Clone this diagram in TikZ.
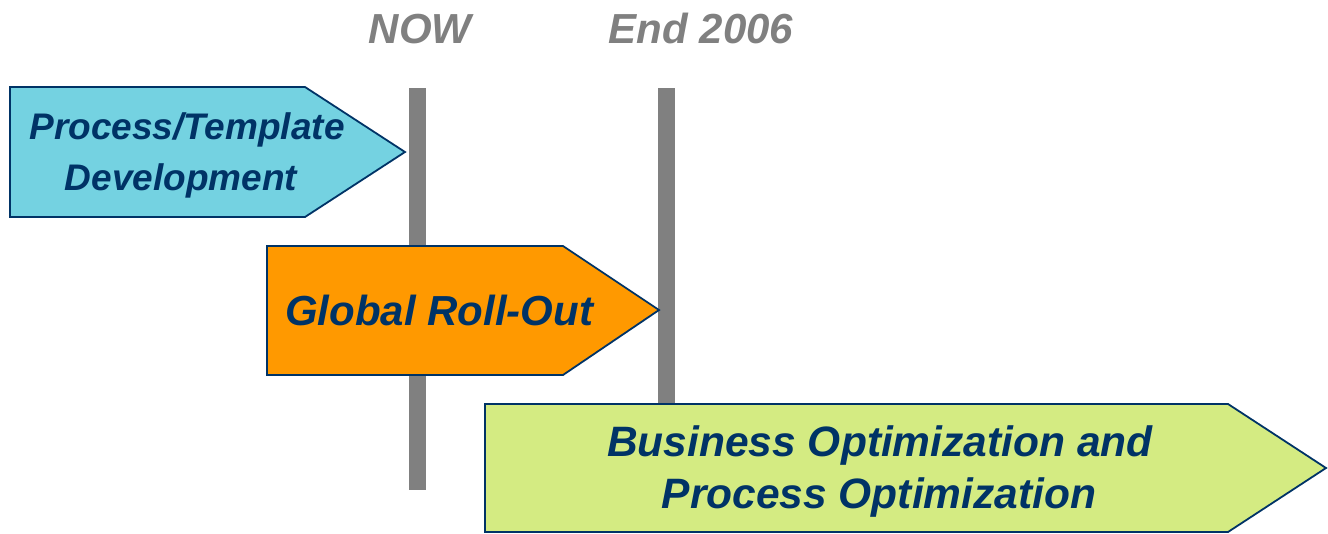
\documentclass[tikz,border=0pt]{standalone}
\usepackage{fontspec}
\setmainfont{Liberation Sans}
\definecolor{navy}{HTML}{003366}
\definecolor{barGray}{HTML}{808080}
\definecolor{cyanFill}{HTML}{74D2E1}
\definecolor{orangeFill}{HTML}{FF9900}
\definecolor{greenFill}{HTML}{D4EB82}
\begin{document}
\begin{tikzpicture}[x=1pt,y=-1pt,
  phase/.style={draw=navy,line width=1.8pt,line join=miter},
  phasetext/.style={text=navy,font=\bfseries\itshape\fontsize{#1}{#1}\selectfont,inner sep=0pt,anchor=base},
  milestone/.style={text=barGray,font=\bfseries\itshape\fontsize{42}{42}\selectfont,inner sep=0pt,anchor=base},
  bar/.style={fill=barGray,draw=none}]
\useasboundingbox (0,0) rectangle (1328,533);
% milestone bars
\fill[bar] (409,88) rectangle (426,490);
\fill[bar] (658,88) rectangle (675,420);
% phases
\draw[phase,fill=cyanFill] (10,87) -- (305,87) -- (405,152) -- (305,217) -- (10,217) -- cycle;
\draw[phase,fill=orangeFill] (267,246) -- (563,246) -- (659,310) -- (563,375) -- (267,375) -- cycle;
\draw[phase,fill=greenFill] (485,404) -- (1228,404) -- (1326,468) -- (1228,532) -- (485,532) -- cycle;
% labels
\node[milestone] (now) at (420,43) {NOW};
\node[milestone] (end) at (701,43) {End 2006};
\node[phasetext=37] (p1) at (187,139) {Process/Template};
\node[phasetext=37] (p2) at (181,190) {Development};
\node[phasetext=42] (g) at (439,325) {Global Roll-Out};
\node[phasetext=42.5] (b1) at (880,456) {Business Optimization and};
\node[phasetext=42.5] (b2) at (879,508) {Process Optimization};
\end{tikzpicture}
\end{document}
